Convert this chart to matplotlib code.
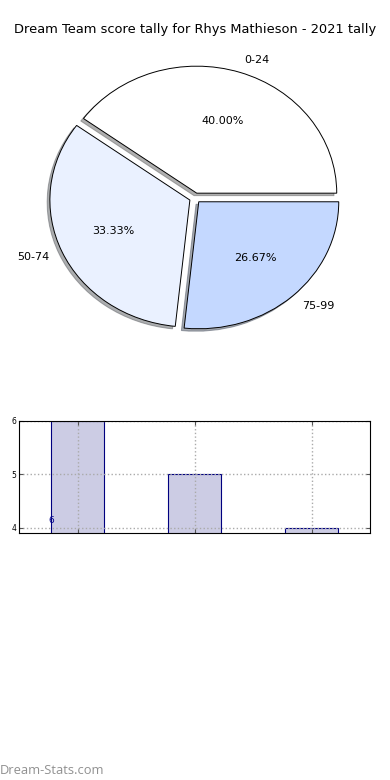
import matplotlib
matplotlib.use("Agg")
import matplotlib.pyplot as plt

title = "Dream Team score tally for Rhys Mathieson - 2021 tally"
pie_labels = ["0-24", "50-74", "75-99"]
pie_values = [6, 5, 4]
pie_colors = ["#ffffff", "#eaf1ff", "#c4d8ff"]

bar_values = [6, 5, 4]
bar_text = "6"

fig = plt.figure(figsize=(3.9, 7.8), dpi=100)
fig.text(0.5, 1 - 30 / 780, title, ha="center", va="center", fontsize=9.4)

ax1 = fig.add_axes([20 / 390, (780 - 356.75) / 780, 350 / 390, 317.5 / 780])
wedges, texts, autotexts = ax1.pie(
    pie_values, labels=pie_labels, colors=pie_colors, explode=[0.04] * 3,
    autopct="%1.2f%%", shadow={"ox": -0.014, "oy": -0.014, "shade": 0.62},
    startangle=0, counterclock=True,
    wedgeprops=dict(edgecolor="black", linewidth=0.7),
    textprops=dict(fontsize=8),
)
ax1.set_aspect("auto")
ax1.set_xlim(-1.25, 1.25)
ax1.set_ylim(-1.25, 1.25)

ax2 = fig.add_axes([19 / 390, (780 - 533) / 780, 351 / 390, 112 / 780])
xs = list(range(len(bar_values)))
ax2.bar(xs, bar_values, width=0.45, color="#ccccE4", edgecolor="#00007f", linewidth=0.8)
ax2.set_xlim(-0.5, 2.5)
ax2.set_ylim(3.9, 6)
ax2.set_yticks([4, 5, 6])
ax2.set_xticks(xs)
ax2.set_xticklabels([])
ax2.tick_params(axis="both", direction="in", labelsize=5.5, length=3, top=True, right=True,
                colors="#555555", labelcolor="black", pad=2)
ax2.grid(True, linestyle=":", color="#aaaaaa", linewidth=1)
ax2.set_axisbelow(False)
for s in ax2.spines.values():
    s.set_linewidth(0.8)
    s.set_zorder(5)
ax2.text(-0.245, 4.05, bar_text, color="#00008b", fontsize=6.5, va="bottom", ha="left")

fig.text(0.0, 1 - 771 / 780, "Dream-Stats.com", color="#909090", fontsize=9.3,
         family="Open Sans", ha="left", va="center")

fig.savefig("out.png", dpi=100)
